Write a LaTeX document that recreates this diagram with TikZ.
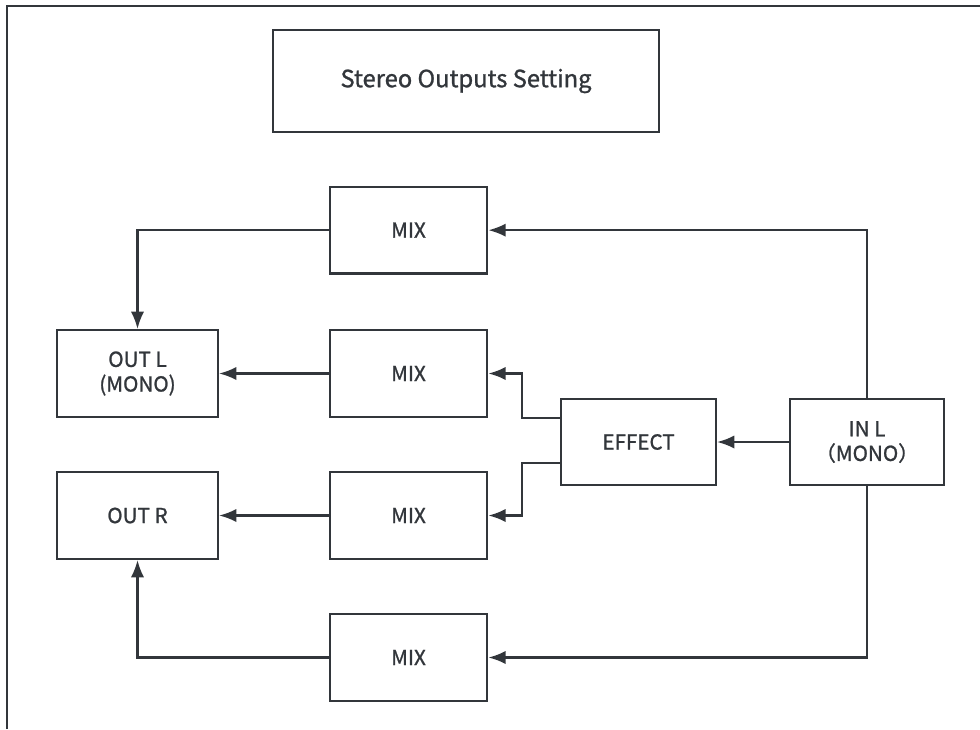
\documentclass[tikz,border=0pt]{standalone}
\usepackage{fontspec}
\setmainfont{Noto Sans CJK SC}[UprightFeatures={FakeBold=1.1}]
\usetikzlibrary{shapes, arrows.meta, positioning}
\definecolor{ink}{RGB}{50,54,59}
\tikzstyle{block}=[draw=ink,fill=white,rectangle,line width=1.8pt,minimum width=118pt,minimum height=65pt,align=center,text=ink]
\tikzstyle{every node}=[font=\fontsize{15.5}{18.5}\selectfont]

\begin{document}
\begin{tikzpicture}[x=0.75pt,y=-0.75pt,node distance=106.5pt,>={Latex[length=13pt,width=10pt]}]
    \useasboundingbox (0,0) rectangle (980,729);
    \draw[ink,line width=1.8pt] (7,729) -- (7,6) -- (980,6);

    \node[block, minimum width=289.5pt, minimum height=76.5pt, font=\fontsize{17.8}{22}\selectfont] (title) at (466,81) {Stereo Outputs Setting};

    % mixers
    \node[block] (mixB) at (408.5,373.5) {MIX};
    \node[block, above of=mixB, node distance=107.5pt] (mixA) {MIX};
    \node[block, below of=mixB] (mixC) {MIX};
    \node[block, below of=mixC] (mixD) {MIX};

    % outputs
    \node[block, minimum width=120.5pt, left of=mixB, node distance=203.25pt] (outL) {OUT L\\(MONO)};
    \node[block, minimum width=120.5pt, left of=mixC, node distance=203.25pt] (outR) {OUT R};

    % input and effect
    \node[block, minimum width=116pt, minimum height=64.5pt] (effect) at (638.5,442) {EFFECT};
    \node[block, minimum width=115.5pt, minimum height=64.5pt, right of=effect, node distance=171.4pt] (inL) {IN L\\（MONO）};

    \draw[ink,line width=1.7pt,->] (inL) |- (mixA);
    \draw[ink,line width=1.7pt,->] (mixA) -| (outL);
    \draw[ink,line width=1.7pt,->] (mixB) -- (outL);
    \draw[ink,line width=1.7pt,->] (inL) -- (effect);
    \draw[ink,line width=1.7pt,->] ([yshift=18pt]effect.west) -- ++(-28.5pt,0) |- (mixB.east);
    \draw[ink,line width=1.7pt,->] ([yshift=-16pt]effect.west) -- ++(-28.5pt,0) |- (mixC.east);
    \draw[ink,line width=1.7pt,->] (mixC) -- (outR);
    \draw[ink,line width=1.7pt,->] (inL) |- (mixD);
    \draw[ink,line width=1.7pt,->] (mixD) -| (outR);
\end{tikzpicture}
\end{document}
